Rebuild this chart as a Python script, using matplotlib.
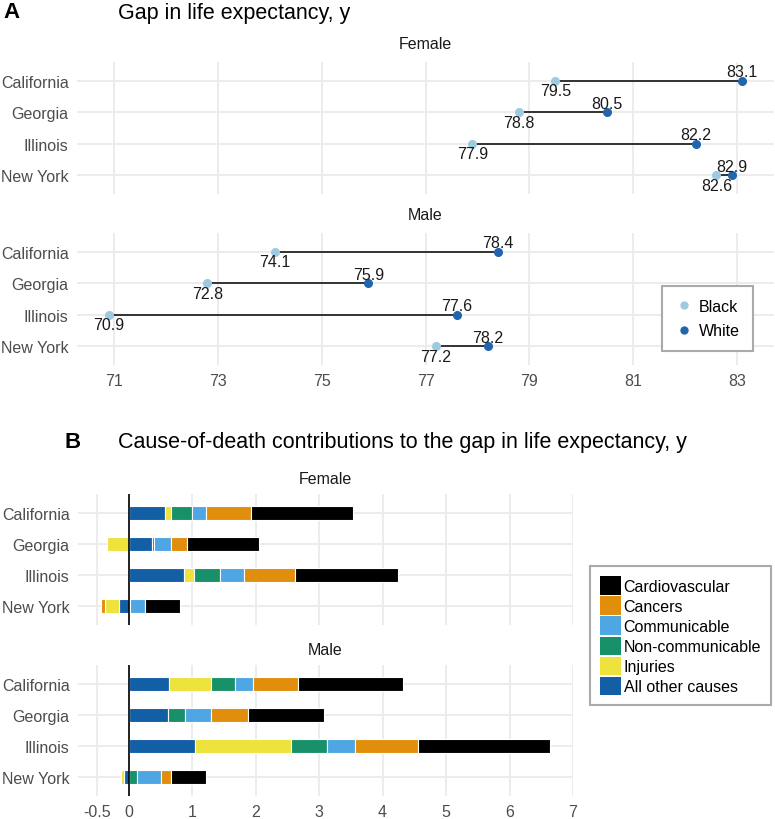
import numpy as np
import matplotlib
matplotlib.use('Agg')
from matplotlib import pyplot as plt
from matplotlib.patches import Patch
from matplotlib.lines import Line2D

plt.rcParams['font.family'] = ['Liberation Sans', 'DejaVu Sans']

# Дані: штати та очікувана тривалість життя
states = ['California', 'Georgia', 'Illinois', 'New York']
le_black_f = [79.5, 78.8, 77.9, 82.6]
le_white_f = [83.1, 80.5, 82.2, 82.9]
le_black_m = [74.1, 72.8, 70.9, 77.2]
le_white_m = [78.4, 75.9, 77.6, 78.2]

# Причини смерті (порядок легенди)
causes = ['Cardiovascular', 'Cancers', 'Communicable', 'Non-communicable', 'Injuries', 'All other causes']
cause_colors = ['#000000', '#E08E0B', '#4EA6E3', '#18916A', '#EEE23C', '#125FA6']

# Внески за штатами: [Cardio, Cancers, Communicable, Non-comm, Injuries, Other]
contrib_f = {
    'California': [1.62, 0.71, 0.22, 0.33, 0.09, 0.57],
    'Georgia':    [1.13, 0.26, 0.26, 0.03, -0.34, 0.37],
    'Illinois':   [1.62, 0.81, 0.38, 0.41, 0.15, 0.87],
    'New York':   [0.55, -0.05, 0.23, 0.02, -0.22, -0.16],
}
contrib_m = {
    'California': [1.66, 0.70, 0.28, 0.38, 0.66, 0.64],
    'Georgia':    [1.19, 0.59, 0.41, 0.26, -0.01, 0.62],
    'Illinois':   [2.09, 0.98, 0.44, 0.57, 1.51, 1.05],
    'New York':   [0.54, 0.16, 0.38, 0.13, -0.05, -0.07],
}

a_ticks = [71, 73, 75, 77, 79, 81, 83]
b_ticks = [-0.5, 0, 1, 2, 3, 4, 5, 6, 7]

col_black = '#9ecae1'
col_white = '#2166ac'
grid_col = '#ebebeb'
tick_col = '#4d4d4d'

W, H = 775, 820
fig = plt.figure(figsize=(W / 100, H / 100), dpi=100)


def rect(x0, y0, x1, y1):
    return [x0 / W, 1 - y1 / H, (x1 - x0) / W, (y1 - y0) / H]


def style(ax, xticks, xlim, show_x):
    ax.set_xlim(*xlim)
    ax.set_ylim(3.6, -0.6)
    ax.set_xticks(xticks)
    ax.set_xticklabels([('%g' % t) for t in xticks] if show_x else [])
    ax.set_yticks(range(len(states)))
    ax.set_yticklabels(states)
    for s in ax.spines.values():
        s.set_visible(False)
    ax.tick_params(length=0, labelsize=11.5, labelcolor=tick_col, pad=6)
    ax.grid(True, color=grid_col, lw=1.3)
    ax.set_axisbelow(True)


# ---- Панель A ----
axes_a = [
    (fig.add_axes(rect(77, 63, 774, 195)), 'Female', le_black_f, le_white_f, False),
    (fig.add_axes(rect(77, 234, 774, 366)), 'Male', le_black_m, le_white_m, True),
]
for ax, title, lb, lw_, show_x in axes_a:
    style(ax, a_ticks, (70.29, 83.71), show_x)
    ax.set_title(title, fontsize=11.5, color='#1a1a1a', pad=10)
    y = np.arange(len(states))
    ax.hlines(y, lb, lw_, color='black', lw=1.1, zorder=2)
    ax.plot(lb, y, 'o', color=col_black, ms=5.5, zorder=3)
    ax.plot(lw_, y, 'o', color=col_white, ms=5.5, zorder=3)
    for i in range(len(states)):
        ax.annotate('%.1f' % lw_[i], (lw_[i], y[i]), xytext=(0, 9), textcoords='offset pixels',
                    ha='center', va='center', fontsize=11.5, color='#1a1a1a')
        ax.annotate('%.1f' % lb[i], (lb[i], y[i]), xytext=(0, -10), textcoords='offset pixels',
                    ha='center', va='center', fontsize=11.5, color='#1a1a1a')

leg_a = fig.legend(handles=[Line2D([], [], marker='o', ls='', color=col_black, ms=5),
                            Line2D([], [], marker='o', ls='', color=col_white, ms=5)],
                   labels=['Black', 'White'], loc='upper left',
                   bbox_to_anchor=(662 / W, 1 - 287 / H), borderaxespad=0, fontsize=11.5,
                   fancybox=False, edgecolor='#aaaaaa', framealpha=1,
                   handlelength=1.2, handletextpad=0.3, borderpad=0.8, labelspacing=0.6)
leg_a.get_frame().set_linewidth(1.5)

fig.text(3 / W, 1 - 13 / H, 'A', fontsize=16, fontweight='bold', va='center')
fig.text(118 / W, 1 - 13 / H, 'Gap in life expectancy, y', fontsize=15.5, va='center')

# ---- Панель B ----
axes_b = [
    (fig.add_axes(rect(78, 495, 573, 626)), 'Female', contrib_f, False),
    (fig.add_axes(rect(78, 666, 573, 797)), 'Male', contrib_m, True),
]
stack_order = [5, 4, 3, 2, 1, 0]  # від нуля назовні
for ax, title, data, show_x in axes_b:
    style(ax, b_ticks, (-0.8, 7.0), show_x)
    ax.set_title(title, fontsize=11.5, color='#1a1a1a', pad=8)
    pos = np.zeros(len(states))
    neg = np.zeros(len(states))
    for k in stack_order:
        vals = np.array([data[s][k] for s in states])
        left = np.where(vals >= 0, pos, neg)
        ax.barh(range(len(states)), vals, left=left, height=0.45,
                color=cause_colors[k], edgecolor='white', lw=0.8, zorder=2)
        pos = pos + np.clip(vals, 0, None)
        neg = neg + np.clip(vals, None, 0)
    ax.axvline(0, color='black', lw=1.2, zorder=3)

leg_b = fig.legend(handles=[Patch(facecolor=c) for c in cause_colors], labels=causes,
                   loc='upper left', bbox_to_anchor=(590 / W, 1 - 567 / H), borderaxespad=0,
                   fontsize=11.5, fancybox=False, edgecolor='#aaaaaa', framealpha=1,
                   handlelength=1.3, handleheight=1.4, handletextpad=0.15,
                   labelspacing=0.1, borderpad=0.65)
leg_b.get_frame().set_linewidth(1.5)

fig.text(65 / W, 1 - 443 / H, 'B', fontsize=16, fontweight='bold', va='center')
fig.text(118 / W, 1 - 443 / H, 'Cause-of-death contributions to the gap in life expectancy, y',
         fontsize=15.5, va='center')

fig.savefig('out.png', dpi=100)
